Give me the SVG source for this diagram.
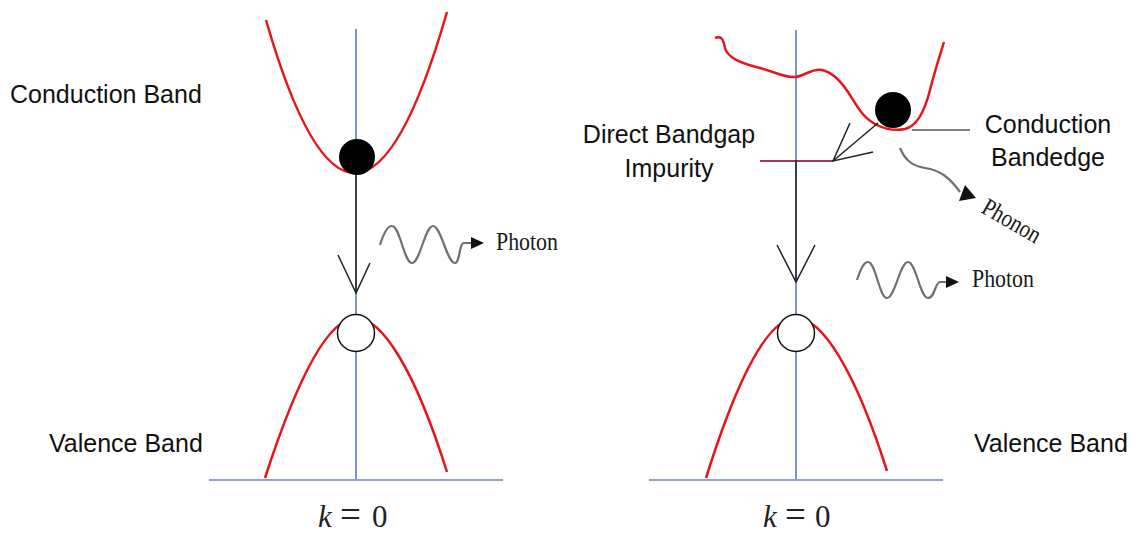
<svg xmlns="http://www.w3.org/2000/svg" width="1136" height="533" viewBox="0 0 1136 533">
<style>
.lbl{font-family:"Liberation Sans",Arial,sans-serif;font-size:25px;fill:#111}
.ser{font-family:"Liberation Serif","Times New Roman",serif;fill:#222}
.ph{font-family:"Liberation Serif","Times New Roman",serif;fill:#1a1a1a;font-size:25px}
.axis{stroke:#5670b4;stroke-width:1.5;fill:none}
.base{stroke:#8ea3cf;stroke-width:2;fill:none}
.band{stroke:#e8141c;stroke-width:2.5;fill:none}
.arr{stroke:#222;stroke-width:1.5;fill:none}
.wave{stroke:#707070;stroke-width:2.2;fill:none}
.head{fill:#111}
</style>
<rect width="1136" height="533" fill="#fff"/>
<g id="left-panel">
  <g id="left-axes">
    <line class="axis" x1="356" y1="29" x2="356" y2="480"/>
    <line class="base" x1="209" y1="480" x2="503" y2="480"/>
  </g>
  <g id="left-conduction-band">
    <path class="band" d="M266,20 Q355.5,330 447,12"/>
  </g>
  <g id="left-valence-band">
    <path class="band" d="M265,478 C300,370 330,318 356,318 C382,318 415,370 447,472"/>
  </g>
  <g id="left-electron"><circle cx="357" cy="157" r="18" fill="#000"/></g>
  <g id="left-hole"><circle cx="356" cy="333" r="18.5" fill="#fff" stroke="#111" stroke-width="1.5"/></g>
  <g id="left-photon">
    <path class="wave" d="M380,245 C384,232 388,226 392,226 C400,226 404,263 412,263 C420,263 425,226 433,226 C441,226 447,263 455,263 C460,263 459,243 464,243 L472,243"/>
    <polygon class="head" points="484,243 471,237 471,249"/>
    <text class="ph" x="496" y="250" textLength="62" lengthAdjust="spacingAndGlyphs">Photon</text>
  </g>
  <text class="lbl" x="10" y="103">Conduction Band</text>
  <text class="lbl" x="49" y="452">Valence Band</text>
  <text class="ser" y="527" font-size="31"><tspan x="318" font-style="italic">k</tspan><tspan x="340" font-size="37">=</tspan><tspan x="372">0</tspan></text>
</g>
<g id="right-panel">
  <g id="right-axes">
    <line class="axis" x1="796" y1="30" x2="796" y2="480"/>
    <line class="base" x1="649" y1="480" x2="943" y2="480"/>
  </g>
  <g id="right-conduction-band">
    <path class="band" d="M715,38 C720,36 723,37 725,48 C728,58 740,63 760,68 C775,72 785,78 795,77 C805,76 812,68 822,70 C832,72 840,80 848,92 C856,104 862,118 877,125 C885,129 895,131 905,129 C918,126 925,110 930,90 C935,70 940,55 944,42"/>
  </g>
  <g id="right-valence-band">
    <path class="band" d="M706,478 C740,370 770,318 796,318 C822,318 855,370 887,471"/>
  </g>
  <g id="right-electron"><circle cx="893" cy="110" r="18" fill="#000"/></g>
  <g id="right-hole"><circle cx="796" cy="333" r="18.5" fill="#fff" stroke="#111" stroke-width="1.5"/></g>
  <g id="impurity-level">
    <line x1="760" y1="161" x2="833" y2="161" stroke="#a33a5a" stroke-width="2"/>
  </g>
  <g id="bandedge-marker">
    <line x1="912" y1="130" x2="970" y2="130" stroke="#555" stroke-width="1.5"/>
  </g>
  <g id="right-phonon">
    <path class="wave" d="M900,148 C905,160 912,166 925,168 C940,170 950,178 960,192"/>
    <polygon class="head" points="976,198 959,201 965,185"/>
    <text class="ph" x="980" y="212" textLength="64" lengthAdjust="spacingAndGlyphs" transform="rotate(30 980 212)">Phonon</text>
  </g>
  <g id="right-photon">
    <path class="wave" d="M857,280 C861,268 864,262 868,262 C876,262 879,298 887,298 C895,298 900,262 908,262 C916,262 920,298 928,298 C935,298 935,282 940,282 L947,282"/>
    <polygon class="head" points="959,282 946,276 946,288"/>
    <text class="ph" x="972" y="287" textLength="62" lengthAdjust="spacingAndGlyphs">Photon</text>
  </g>
  <text class="lbl" x="669" y="143" text-anchor="middle">Direct Bandgap</text>
  <text class="lbl" x="669" y="177" text-anchor="middle">Impurity</text>
  <text class="lbl" x="1048" y="133" text-anchor="middle">Conduction</text>
  <text class="lbl" x="1048" y="166" text-anchor="middle">Bandedge</text>
  <text class="lbl" x="974" y="452">Valence Band</text>
  <text class="ser" y="527" font-size="31"><tspan x="763" font-style="italic">k</tspan><tspan x="785" font-size="37">=</tspan><tspan x="815">0</tspan></text>
</g>
<g id="connectors">
  <line class="arr" x1="356" y1="175" x2="356" y2="293"/>
  <polyline class="arr" points="338,255 356,293 370,263"/>
  <line class="arr" x1="796" y1="160" x2="796" y2="282"/>
  <polyline class="arr" points="777,245 796,282 815,245"/>
  <line class="arr" x1="878" y1="123" x2="833" y2="161"/>
  <polyline class="arr" points="850,123 833,161 873,152"/>
</g>
</svg>
